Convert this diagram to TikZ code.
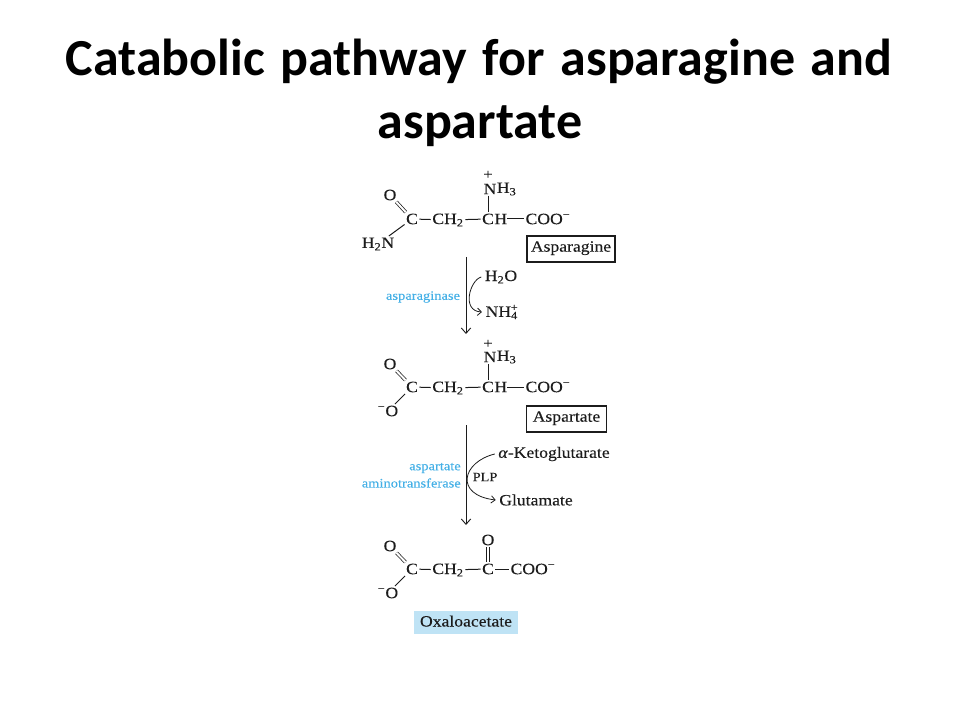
\documentclass[tikz,border=0pt]{standalone}
\usepackage{fontspec}
\setmainfont{Liberation Serif}[FakeStretch=1.12,FakeBold=0.2]
\newfontfamily\titlefont{Carlito}[WordSpace=1.34]
\usetikzlibrary{arrows.meta}
\definecolor{inkc}{HTML}{1C1C1C}
\definecolor{enzc}{HTML}{45B0E6}
\definecolor{oxac}{HTML}{BFE3F5}
\newcommand{\subs}[1]{\textsubscript{#1}}
\newcommand{\sups}[1]{\textsuperscript{#1}}
\tikzset{
 x=0.75pt,y=-0.75pt,
 titletext/.style={font=\titlefont\bfseries\fontsize{39}{46}\selectfont,text=black,inner sep=0pt,anchor=base},
 atom/.style={font=\fontsize{11.8}{14}\selectfont,text=inkc,inner sep=1pt},
 enz/.style={font=\fontsize{9.7}{11}\selectfont,text=enzc,inner sep=0pt},
 sub/.style={font=\fontsize{11.8}{14}\selectfont,text=inkc,inner sep=2.5pt},
 plus/.style={font=\fontsize{11}{11}\selectfont,text=inkc,inner sep=0pt},
 plabel/.style={font=\fontsize{9.6}{10}\selectfont,text=inkc,inner sep=0pt},
 namebox/.style={font=\fontsize{11.8}{13}\selectfont,text=inkc,draw=inkc,line width=1pt,minimum height=19.5pt,inner sep=0pt,text height=7pt,text depth=3pt},
 bond/.style={draw=inkc,line width=0.75pt},
 dbl/.style={draw=inkc,double,double distance=1.5pt,line width=0.55pt},
 rxn/.style={draw=inkc,line width=0.7pt,-{Straight Barb[length=4pt,width=7pt]}},
 side/.style={draw=inkc,line width=0.6pt,-{Straight Barb[length=3pt,width=5.5pt]}},
 follow/.style={atom,anchor=west,inner xsep=0pt,xshift=-1pt},
}
\begin{document}
\begin{tikzpicture}
\useasboundingbox (0,0) rectangle (960,720);
\node[titletext] (t1) at (479,76) {Catabolic pathway for asparagine and};
\node[titletext] (t2) at (480,139) {aspartate};
% Asparagine
\node[atom] (o1) at (390,195) {O};
\node[atom] (c1) at (412,219) {C};
\node[atom] (n1) at (378,244) {H\subs{2}N};
\node[atom] (ch21) at (448,220) {CH\subs{2}};
\node[atom] (ca1) at (488,219) {C};
\node[follow] (ha1) at (ca1.east) {H};
\node[atom] (coo1) at (548,219) {COO\sups{−}};
\node[atom] (na1) at (490,189) {N};
\node[follow] (h31) at (na1.east) {H\subs{3}};
\node[plus] (p1) at (488,175) {+};
\node[namebox,minimum width=66pt] (b1) at (571,249) {Asparagine};
\draw[dbl] (o1) -- (c1);
\draw[bond] (n1) -- (c1);
\draw[bond] (c1) -- (ch21);
\draw[bond] (ch21) -- (ca1);
\draw[bond] (ha1) -- (coo1);
\draw[bond] (na1.south -| ca1) -- (ca1);
% Step 1
\coordinate (a1s) at (466,257);
\coordinate (a1e) at (466,334);
\draw[rxn] (a1s) -- (a1e);
\node[sub] (h2o) at (501,277) {H\subs{2}O};
\node[sub] (nh4) at (502,312) {NH\textsubscript{4}\kern-0.45em\sups{+}};
\node[enz] (e1) at (423,297) {asparaginase};
\draw[side] (h2o.west) .. controls (470,280) and (461,311) .. (nh4.west);
% Aspartate
\node[atom] (o2) at (390,364) {O};
\node[atom] (c2) at (412,387) {C};
\node[atom] (om2) at (388,411) {\sups{−}O};
\node[atom] (ch22) at (448,388) {CH\subs{2}};
\node[atom] (ca2) at (488,387) {C};
\node[follow] (ha2) at (ca2.east) {H};
\node[atom] (coo2) at (548,387) {COO\sups{−}};
\node[atom] (na2) at (490,357) {N};
\node[follow] (h32) at (na2.east) {H\subs{3}};
\node[plus] (p2) at (488,344) {+};
\node[namebox,minimum width=60pt] (b2) at (566.5,419) {Aspartate};
\draw[dbl] (o2) -- (c2);
\draw[bond] (om2) -- (c2);
\draw[bond] (c2) -- (ch22);
\draw[bond] (ch22) -- (ca2);
\draw[bond] (ha2) -- (coo2);
\draw[bond] (na2.south -| ca2) -- (ca2);
% Step 2
\coordinate (a2s) at (466,425);
\coordinate (a2e) at (466,525);
\draw[rxn] (a2s) -- (a2e);
\node[sub] (akg) at (554,454) {\textit{α}-Ketoglutarate};
\node[sub] (glu) at (536,500) {Glutamate};
\node[plabel] (plp) at (485,477) {PLP};
\node[enz,anchor=east] (e2a) at (461,468) {aspartate};
\node[enz,anchor=east] (e2b) at (461,483) {aminotransferase};
\draw[side] (akg.west) .. controls (462,462) and (454,495) .. (glu.west);
% Oxaloacetate
\node[atom] (o3) at (390,546) {O};
\node[atom] (c3) at (412,569) {C};
\node[atom] (om3) at (388,593) {\sups{−}O};
\node[atom] (ch23) at (448,570) {CH\subs{2}};
\node[atom] (ck3) at (488,569) {C};
\node[atom] (ok3) at (488,540) {O};
\node[atom] (coo3) at (533,569) {COO\sups{−}};
\node[namebox,draw=none,fill=oxac,minimum width=78pt,minimum height=17pt,text height=7.5pt,text depth=1.5pt] (b3) at (466,622.5) {Oxaloacetate};
\draw[dbl] (o3) -- (c3);
\draw[bond] (om3) -- (c3);
\draw[bond] (c3) -- (ch23);
\draw[bond] (ch23) -- (ck3);
\draw[bond] (ck3) -- (coo3);
\draw[dbl] (ok3) -- (ck3);
\end{tikzpicture}
\end{document}
